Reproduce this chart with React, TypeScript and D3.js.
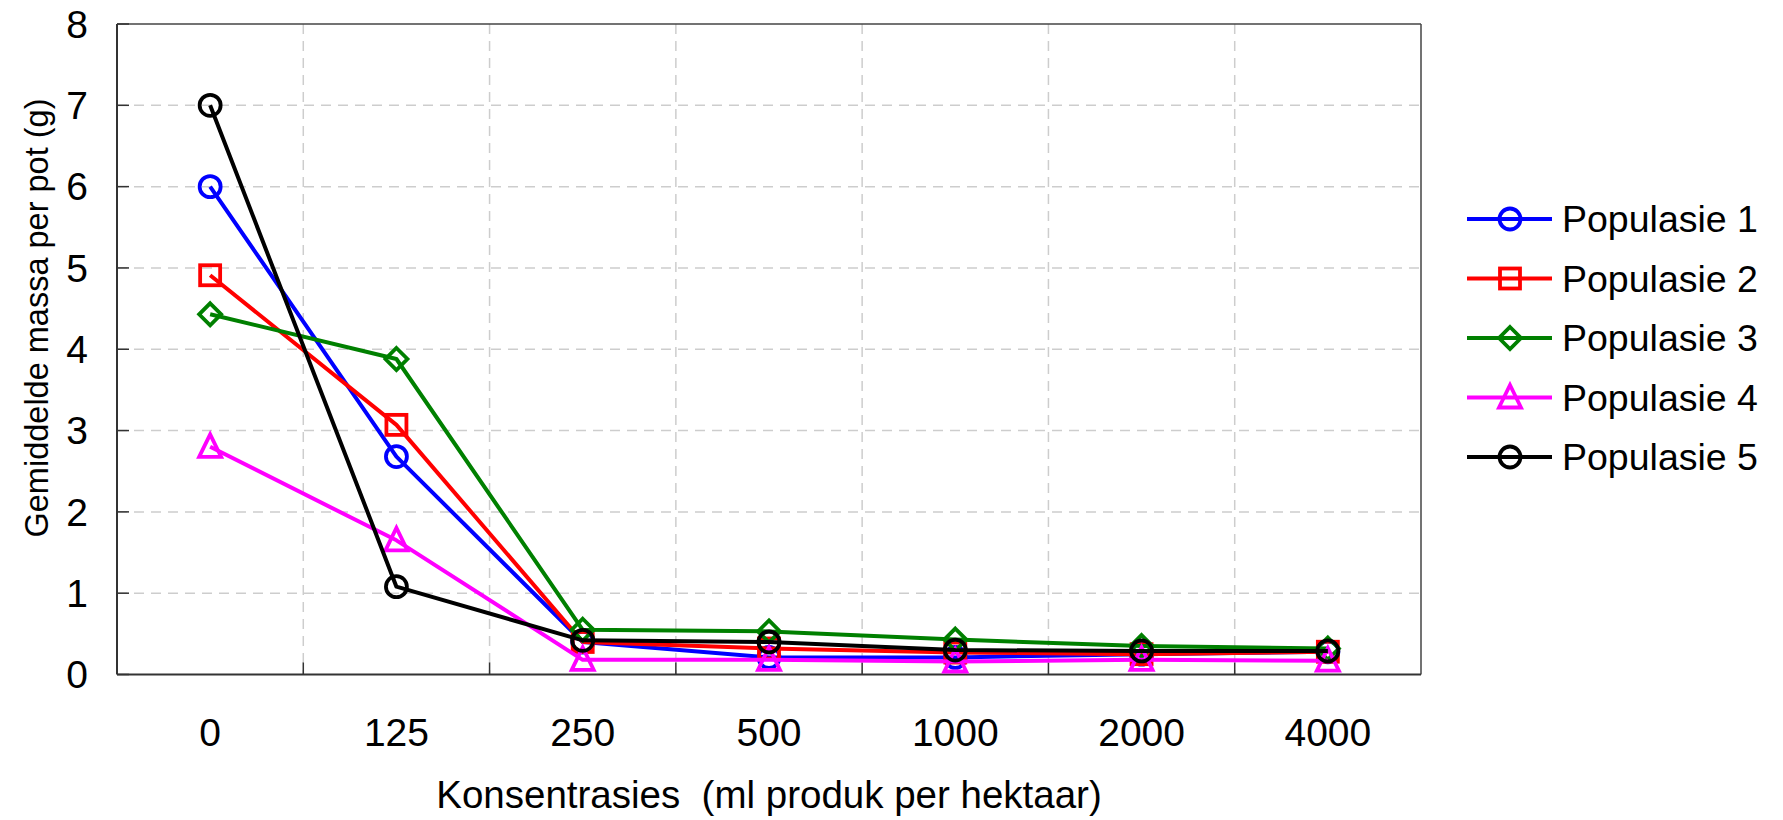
import React from "react";
import * as d3 from "d3";

const categories = ["0", "125", "250", "500", "1000", "2000", "4000"];
const pop1 = [6.0, 2.68, 0.4, 0.21, 0.21, 0.25, 0.28];
const pop2 = [4.91, 3.07, 0.4, 0.32, 0.27, 0.25, 0.28];
const pop3 = [4.43, 3.88, 0.55, 0.53, 0.43, 0.35, 0.32];
const pop4 = [2.8, 1.65, 0.18, 0.18, 0.16, 0.18, 0.17];
const pop5 = [7.0, 1.08, 0.42, 0.4, 0.3, 0.29, 0.29];
const seriesNames = ["Populasie 1", "Populasie 2", "Populasie 3", "Populasie 4", "Populasie 5"];
const seriesColors = ["#0000ff", "#ff0000", "#008000", "#ff00ff", "#000000"];
const seriesMarkers = ["circle", "square", "diamond", "triangle", "circle"];
const yTicks = [0, 1, 2, 3, 4, 5, 6, 7, 8];
const xTitle = "Konsentrasies  (ml produk per hektaar)";
const yTitle = "Gemiddelde massa per pot (g)";

const W = 1783;
const H = 820;
const L = 117, R = 1421, T = 24, B = 674.5;
const FONT = "'Liberation Sans', Arial, Helvetica, sans-serif";

function Marker({ kind, x, y, color }: { kind: string; x: number; y: number; color: string }) {
  const sw = 3.8;
  if (kind === "circle") return <circle cx={x} cy={y} r={10.5} fill="none" stroke={color} strokeWidth={sw} />;
  if (kind === "square") return <rect x={x - 10} y={y - 10} width={20} height={20} fill="none" stroke={color} strokeWidth={sw} />;
  if (kind === "diamond") {
    const d = 11;
    return <path d={`M${x},${y - d}L${x + d},${y}L${x},${y + d}L${x - d},${y}Z`} fill="none" stroke={color} strokeWidth={sw} />;
  }
  return <path d={`M${x},${y - 12.5}L${x + 11},${y + 10}L${x - 11},${y + 10}Z`} fill="none" stroke={color} strokeWidth={sw} strokeLinejoin="miter" />;
}

export default function App() {
  const data = [pop1, pop2, pop3, pop4, pop5];
  const x = d3.scaleBand<string>().domain(categories).range([L, R]).padding(0);
  const y = d3.scaleLinear().domain([0, 8]).range([B, T]);
  const cx = (c: string) => (x(c) as number) + x.bandwidth() / 2;
  const line = d3.line<number>().x((_, i) => cx(categories[i])).y((v) => y(v));
  const bounds = categories.slice(1).map((c) => x(c) as number);

  return (
    <svg width={W} height={H} style={{ position: "absolute", left: 0, top: 0, background: "#fff" }} fontFamily={FONT}>
      <rect x={0} y={0} width={W} height={H} fill="#fff" />
      {/* grid */}
      {yTicks.filter((t) => t > 0 && t < 8).map((t) => (
        <line key={"gy" + t} x1={L} x2={R} y1={y(t)} y2={y(t)} stroke="#cdcdcd" strokeWidth={1.5} strokeDasharray="10,7" />
      ))}
      {bounds.map((bx, i) => (
        <line key={"gx" + i} x1={bx} x2={bx} y1={T} y2={B} stroke="#cdcdcd" strokeWidth={1.5} strokeDasharray="10,7" />
      ))}
      {/* frame */}
      <line x1={L} x2={R} y1={T} y2={T} stroke="#444" strokeWidth={1.5} />
      <line x1={R} x2={R} y1={T} y2={B} stroke="#444" strokeWidth={1.5} />
      <line x1={L} x2={L} y1={T} y2={B} stroke="#333" strokeWidth={2} />
      <line x1={L} x2={R} y1={B} y2={B} stroke="#333" strokeWidth={2} />
      {/* ticks */}
      {yTicks.map((t) => (
        <line key={"ty" + t} x1={L} x2={L + 12} y1={y(t)} y2={y(t)} stroke="#333" strokeWidth={1.5} />
      ))}
      {bounds.map((bx, i) => (
        <line key={"tx" + i} x1={bx} x2={bx} y1={B} y2={B - 12} stroke="#333" strokeWidth={1.5} />
      ))}
      {/* tick labels */}
      {yTicks.map((t) => (
        <text key={"ly" + t} x={88} y={y(t)} dy="0.35em" textAnchor="end" fontSize={39} fill="#000">{t}</text>
      ))}
      {categories.map((c) => (
        <text key={"lx" + c} x={cx(c)} y={746} textAnchor="middle" fontSize={39} fill="#000">{c}</text>
      ))}
      {/* axis titles */}
      <text x={(L + R) / 2} y={808} textAnchor="middle" fontSize={38.5} fill="#000" style={{ whiteSpace: "pre" }}>{xTitle}</text>
      <text transform={`translate(48,318) rotate(-90)`} textAnchor="middle" fontSize={32.5} fill="#000">{yTitle}</text>
      {/* series */}
      {data.map((vals, si) => (
        <g key={"s" + si}>
          <path d={line(vals) || ""} fill="none" stroke={seriesColors[si]} strokeWidth={4} strokeLinejoin="round" />
          {vals.map((v, i) => (
            <Marker key={i} kind={seriesMarkers[si]} x={cx(categories[i])} y={y(v)} color={seriesColors[si]} />
          ))}
        </g>
      ))}
      {/* legend */}
      {seriesNames.map((n, i) => {
        const ly = 219 + i * 59.5;
        return (
          <g key={"lg" + i}>
            <line x1={1467} x2={1552} y1={ly} y2={ly} stroke={seriesColors[i]} strokeWidth={4} />
            <Marker kind={seriesMarkers[i]} x={1510} y={ly} color={seriesColors[i]} />
            <text x={1562} y={ly} dy="0.35em" fontSize={37.5} fill="#000">{n}</text>
          </g>
        );
      })}
    </svg>
  );
}
